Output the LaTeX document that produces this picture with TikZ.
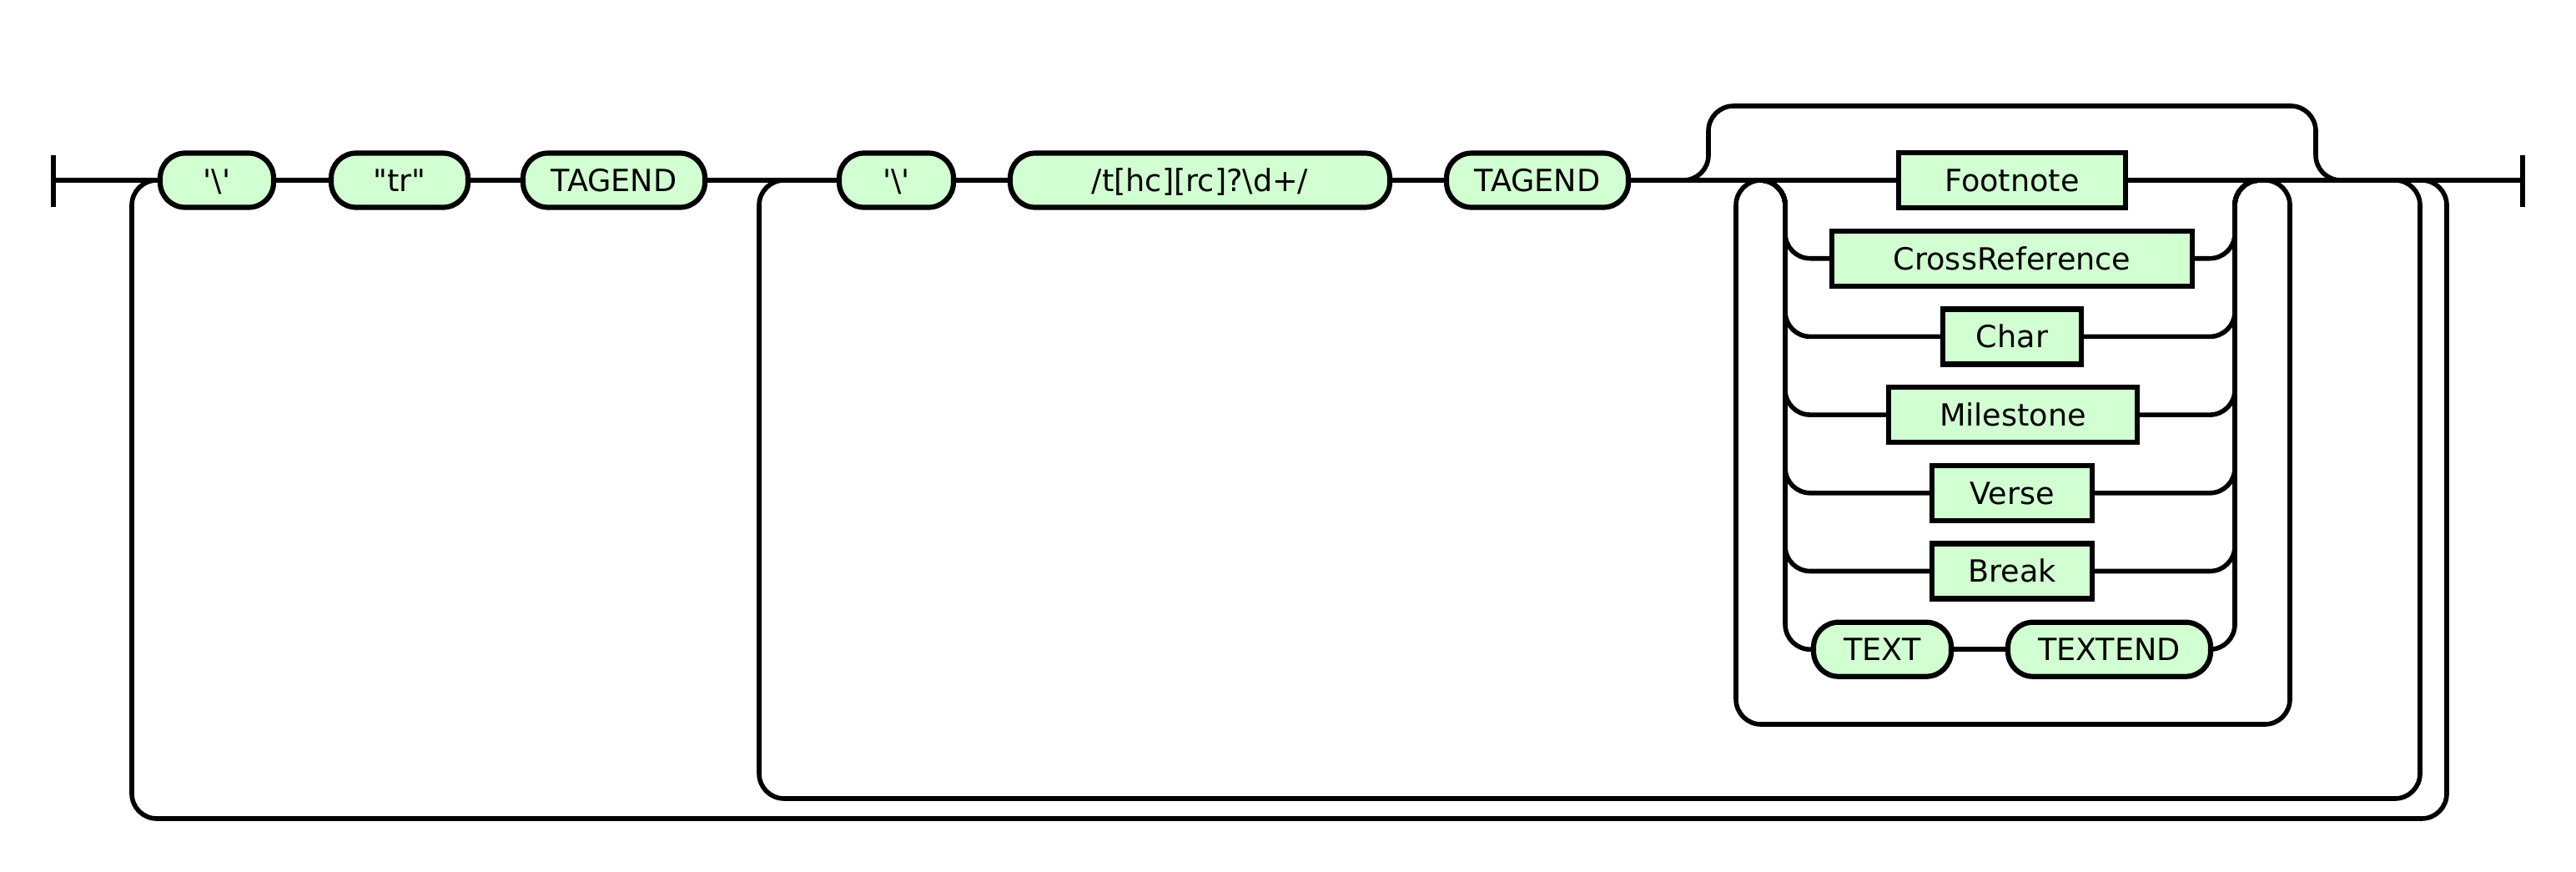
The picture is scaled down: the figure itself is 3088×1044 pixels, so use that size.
\documentclass[tikz,border=0pt]{standalone}
\usepackage{fontspec}
\setmainfont{DejaVu Sans}
\usetikzlibrary{backgrounds}
\definecolor{nodefill}{RGB}{210,255,210}
\begin{document}
\begin{tikzpicture}[x=0.5pt,y=-0.5pt,
  conn/.style={line width=2.8pt, rounded corners=15pt},
  box/.style={draw, line width=3.1pt, fill=nodefill, inner sep=0pt, minimum height=33pt,
    text height=13.3pt, text depth=0pt, font=\fontsize{18.3pt}{20pt}\selectfont},
  term/.style={box, rounded corners=15pt, minimum height=32.5pt},
  nterm/.style={box}]
\useasboundingbox (0,0) rectangle (3088,1044);

% main row
\node[term, minimum width=68pt]  (bs1)     at (260,216)    {\textquotesingle\textbackslash\textquotesingle};
\node[term, minimum width=82pt]  (tr)      at (479,216)    {\textquotedbl tr\textquotedbl};
\node[term, minimum width=109pt] (tagend1) at (736,216)    {TAGEND};
\node[term, minimum width=68.5pt](bs2)     at (1074.5,216) {\textquotesingle\textbackslash\textquotesingle};
\node[term, minimum width=227.5pt](regex)  at (1438.5,216) {/t[hc][rc]?\textbackslash d+/};
\node[term, minimum width=109pt] (tagend2) at (1843,216)   {TAGEND};

% choice
\node[nterm, minimum width=136pt] (fn)    at (2412,216)   {Footnote};
\node[nterm, minimum width=216pt] (cr)    at (2412,309.7) {CrossReference};
\node[nterm, minimum width=83pt]  (chr)   at (2412,403.4) {Char};
\node[nterm, minimum width=149pt] (mile)  at (2413,497.1) {Milestone};
\node[nterm, minimum width=96pt]  (verse) at (2412,590.8) {Verse};
\node[nterm, minimum width=96pt]  (brk)   at (2412,684.5) {Break};
\node[term, minimum width=82.5pt] (txt)   at (2256.5,778.2) {TEXT};
\node[term, minimum width=121.5pt](txtend) at (2528.5,778.2) {TEXTEND};

% junctions
\coordinate (startbar) at (64,216);
\coordinate (endbar)   at (3024,216);
\coordinate (iJ) at (940,216);
\coordinate (iE) at (2871,216);
\coordinate (oE) at (2903,216);
\coordinate (rJ) at (2111,216);
\coordinate (rE) at (2715,216);
\coordinate (cJ) at (2110,216);
\coordinate (cE) at (2709,216);
\coordinate (bJ) at (2018,216);
\coordinate (bE) at (2806,216);

\begin{scope}[on background layer]
  % bars
  \draw[line width=2.8pt] (startbar) ++(0,-30) -- ++(0,62);
  \draw[line width=2.8pt] (endbar) ++(0,-30) -- ++(0,62);
  % main line
  \draw[conn] (startbar) -- (bs1.west);
  \draw[conn] (bs1.east) -- (tr.west);
  \draw[conn] (tr.east) -- (tagend1.west);
  \draw[conn] (tagend1.east) -- (bs2.west);
  \draw[conn] (bs2.east) -- (regex.west);
  \draw[conn] (regex.east) -- (tagend2.west);
  \draw[conn] (tagend2.east) -- (fn.west);
  \draw[conn] (fn.east) -- (endbar);
  % outer loop
  \draw[conn] (bs1.west) -| (158,981) -| (2933,216) -- (oE);
  % inner loop
  \draw[conn] (iJ) -| (910,957) -| (2901,216) -- (iE);
  % repetition loop
  \draw[conn] (rJ) -| (2081,868) -| (2745,216) -- (rE);
  % bypass
  \draw[conn] (bJ) -| (2048,127) -| (2776,216) -- (bE);
  % choice branches
  \foreach \n in {cr,chr,mile,verse,brk}{
    \draw[conn] (cJ) -| (2140,0 |- \n.west) -- (\n.west);
    \draw[conn] (\n.east) -| (2679,216) -- (cE);
  }
  \draw[conn] (cJ) -| (2140,778.2) -- (txt.west);
  \draw[conn] (txt.east) -- (txtend.west);
  \draw[conn] (txtend.east) -| (2679,216) -- (cE);
\end{scope}
\end{tikzpicture}
\end{document}
